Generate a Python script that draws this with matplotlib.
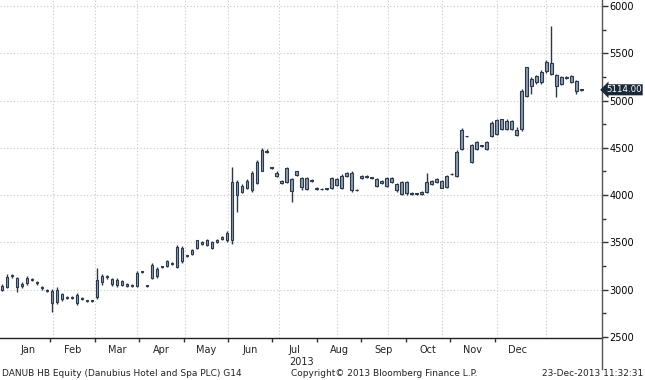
import numpy as np
import matplotlib
matplotlib.use("Agg")
import matplotlib.pyplot as plt
import matplotlib.transforms as mtransforms

# candle data (one candle per ~2 sessions), Jan -> Dec 2013
opens = [3000, 3030, 3150, 3120, 3040, 3070, 3110, 3080, 3030, 3000,
         2990, 2870, 2950, 2910, 2920, 2940, 2900, 2880, 2880, 2920,
         3080, 3140, 3110, 3050, 3090, 3060, 3040, 3040, 3190, 3040,
         3120, 3140, 3240, 3250, 3270, 3240, 3440, 3360, 3380, 3440,
         3500, 3470, 3440, 3500, 3540, 3520, 3520, 4140, 4030, 4080,
         4050, 4130, 4260, 4460, 4290, 4230, 4150, 4140, 4170, 4250,
         4090, 4060, 4150, 4080, 4060, 4070, 4070, 4170, 4070, 4200,
         4050, 4050, 4180, 4190, 4180, 4100, 4130, 4100, 4180, 4120,
         4010, 4140, 4020, 4020, 4010, 4030, 4150, 4170, 4080, 4090,
         4220, 4200, 4490, 4620, 4350, 4490, 4520, 4490, 4620, 4650,
         4700, 4780, 4780, 4690, 4700, 5050, 5230, 5200, 5300, 5310,
         5280, 5150, 5250, 5240, 5260, 5210, 5110]
highs = [3060, 3160, 3170, 3130, 3080, 3140, 3120, 3090, 3040, 3010,
         3010, 3030, 2960, 2930, 2930, 2960, 2920, 2890, 2890, 3230,
         3160, 3150, 3120, 3120, 3100, 3070, 3060, 3200, 3200, 3050,
         3280, 3240, 3250, 3310, 3290, 3470, 3460, 3370, 3430, 3530,
         3510, 3540, 3510, 3540, 3570, 3620, 4300, 4160, 4120, 4170,
         4250, 4370, 4500, 4490, 4300, 4250, 4160, 4300, 4180, 4260,
         4190, 4190, 4170, 4090, 4070, 4070, 4190, 4180, 4220, 4240,
         4250, 4060, 4210, 4210, 4190, 4180, 4160, 4190, 4190, 4130,
         4150, 4150, 4030, 4020, 4040, 4230, 4160, 4180, 4160, 4210,
         4230, 4480, 4710, 4630, 4540, 4570, 4530, 4570, 4780, 4810,
         4810, 4800, 4790, 4720, 5120, 5360, 5250, 5270, 5320, 5430,
         5790, 5280, 5260, 5260, 5270, 5220, 5120]
lows = [2990, 3020, 3120, 2980, 3020, 3050, 3090, 3050, 3000, 2980,
        2760, 2850, 2880, 2900, 2900, 2840, 2890, 2870, 2870, 2900,
        3050, 3110, 3040, 3030, 3040, 3030, 3030, 3030, 3180, 3030,
        3110, 3120, 3230, 3240, 3260, 3230, 3280, 3350, 3370, 3430,
        3470, 3460, 3430, 3490, 3530, 3500, 3480, 3820, 4020, 4060,
        4030, 4120, 4250, 4450, 4280, 4190, 4120, 4130, 3930, 4200,
        4050, 4050, 4140, 4050, 4050, 4050, 4060, 4100, 4060, 4190,
        4030, 4040, 4170, 4180, 4170, 4090, 4120, 4090, 4130, 4030,
        4000, 4000, 4000, 4000, 4000, 4020, 4110, 4130, 4070, 4080,
        4210, 4190, 4480, 4610, 4340, 4480, 4510, 4480, 4610, 4640,
        4690, 4690, 4690, 4620, 4680, 5040, 5070, 5180, 5180, 5290,
        5270, 5040, 5170, 5230, 5190, 5070, 5100]
closes = [3040, 3130, 3140, 3030, 3060, 3120, 3100, 3070, 3020, 2990,
          2860, 3000, 2900, 2920, 2910, 2860, 2910, 2880, 2880, 3100,
          3140, 3130, 3060, 3100, 3050, 3040, 3050, 3180, 3190, 3040,
          3260, 3220, 3240, 3300, 3280, 3450, 3300, 3360, 3420, 3520,
          3480, 3530, 3500, 3530, 3560, 3600, 4140, 4000, 4100, 4150,
          4230, 4350, 4480, 4470, 4290, 4200, 4130, 4290, 4040, 4210,
          4180, 4180, 4160, 4060, 4060, 4060, 4180, 4110, 4200, 4230,
          4230, 4050, 4200, 4200, 4180, 4170, 4150, 4180, 4140, 4050,
          4140, 4020, 4010, 4010, 4030, 4140, 4120, 4140, 4150, 4200,
          4220, 4460, 4690, 4620, 4530, 4560, 4520, 4560, 4760, 4790,
          4800, 4700, 4700, 4640, 5100, 5350, 5150, 5260, 5200, 5410,
          5400, 5270, 5180, 5250, 5200, 5100, 5114]

months = ["Jan", "Feb", "Mar", "Apr", "May", "Jun",
          "Jul", "Aug", "Sep", "Oct", "Nov", "Dec"]
# month label positions (candle units) and grid lines
month_label_pos = [5.2, 14.1, 23.0, 31.9, 40.8, 49.7,
                   58.6, 67.5, 76.4, 85.3, 94.2, 103.1]
grid_x = [10.2, 18.6, 27.0, 36.6, 45.2, 55.4, 67.0, 77.2, 88.0, 99.0, 109.0]
y_ticks = [2500, 3000, 3500, 4000, 4500, 5000, 5500, 6000]
last_price = 5114.00

opens = np.array(opens)
highs = np.array(highs)
lows = np.array(lows)
closes = np.array(closes)
x = np.arange(len(closes))

fig = plt.figure(figsize=(6.45, 3.8), dpi=100)
ax = fig.add_axes([0.0, 0.111, 0.934, 0.889])

edge = "#2b3849"
face = "#8d9bad"

ax.vlines(x, lows, highs, color=edge, linewidth=1.0, zorder=3)
bottoms = np.minimum(opens, closes)
heights = np.maximum(np.abs(closes - opens), 8)
ax.bar(x, heights, bottom=bottoms, width=0.5, color=face,
       edgecolor=edge, linewidth=0.8, zorder=4)

ax.set_xlim(-0.4, 120.2)
ax.set_ylim(2490, 6064)

# grid
for g in grid_x:
    ax.axvline(g, color="#c8c8c8", linestyle=(0, (1, 2)), linewidth=0.8, zorder=1)
for t in y_ticks[1:]:
    ax.axhline(t, color="#c8c8c8", linestyle=(0, (1, 2)), linewidth=0.8, zorder=1)

# spines
for s in ["top", "left"]:
    ax.spines[s].set_visible(False)
ax.spines["bottom"].set_color("#222222")
ax.spines["right"].set_color("#555555")
ax.spines["bottom"].set_linewidth(1.0)
ax.spines["right"].set_linewidth(1.0)

# y axis on the right
ax.yaxis.tick_right()
ax.set_yticks(y_ticks)
ax.set_yticklabels([str(t) for t in y_ticks])
ax.set_yticks(np.arange(2750, 6000, 500), minor=True)
ax.tick_params(axis="y", which="major", direction="out", length=4, width=1,
               color="#333333", labelsize=7, pad=1)
ax.tick_params(axis="y", which="minor", direction="out", length=3, width=1,
               color="#333333")

# x axis: ticks between month labels
tick_pos = [(a + b) / 2 for a, b in zip(month_label_pos[:-1], month_label_pos[1:])]
ax.set_xticks(tick_pos)
ax.set_xticklabels([])
ax.tick_params(axis="x", which="major", direction="out", length=3, width=1,
               color="#333333")
trans = mtransforms.blended_transform_factory(ax.transData, fig.transFigure)
for c, m in zip(month_label_pos, months):
    fig.text(c, 0.08, m, transform=trans, ha="center", va="center",
             fontsize=7, color="#222222")
fig.text(month_label_pos[6] + 1.4, 0.047, "2013", transform=trans,
         ha="center", va="center", fontsize=7, color="#222222")

# right spine continues down
fig.add_artist(plt.Line2D([0.934, 0.934], [0.03, 0.111], color="#555555",
                          linewidth=1.0, transform=fig.transFigure))

# last price tag
ytrans = mtransforms.blended_transform_factory(ax.transAxes, ax.transData)
ax.text(1.006, last_price, f"{last_price:.2f}", transform=ytrans,
        ha="left", va="center", fontsize=6.2, color="white", zorder=10,
        bbox=dict(boxstyle="larrow,pad=0.12", fc="#1b2838", ec="none"),
        clip_on=False)

# footer
fig.text(0.003, 0.018, "DANUB HB Equity (Danubius Hotel and Spa PLC) G14",
         ha="left", va="center", fontsize=6.5, color="#222222")
fig.text(0.596, 0.018, "Copyright\u00a9 2013 Bloomberg Finance L.P.",
         ha="center", va="center", fontsize=6.5, color="#222222")
fig.text(0.998, 0.018, "23-Dec-2013 11:32:31",
         ha="right", va="center", fontsize=6.5, color="#222222")

fig.savefig("out.png", dpi=100, facecolor="white")
